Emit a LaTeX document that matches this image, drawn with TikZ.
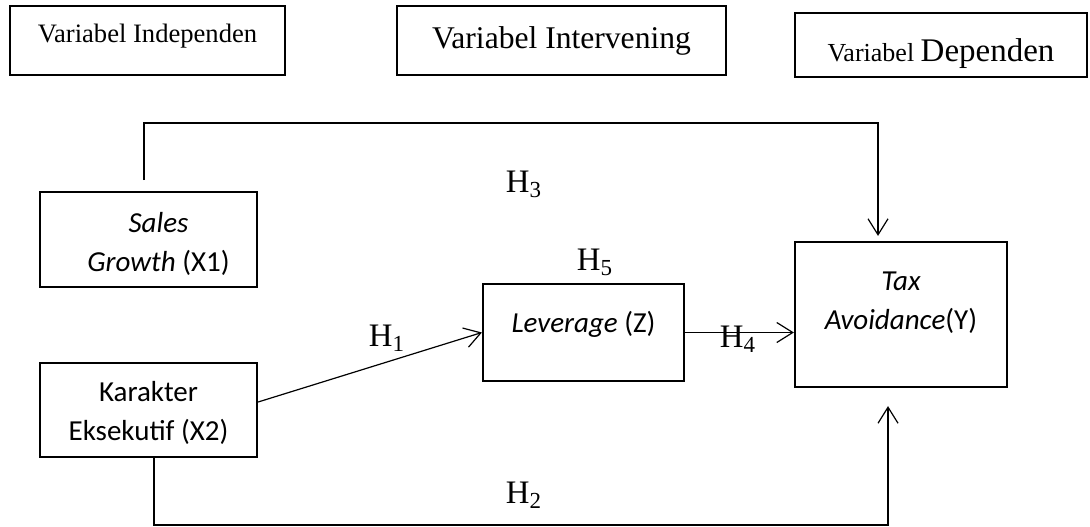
\documentclass[tikz,border=0pt]{standalone}
\usepackage{fontspec}
\setmainfont{Liberation Serif}
\newfontfamily\calibri{Carlito}
\usetikzlibrary{arrows.meta}

\begin{document}
\begin{tikzpicture}[x=0.5pt,y=-0.5pt,
	box/.style={draw=black,line width=1.1pt,inner sep=0pt,align=center},
	varbox/.style={box,font=\calibri\fontsize{14.5}{19.5}\selectfont},
	hyp/.style={inner sep=0pt,font=\fontsize{16.4}{18}\selectfont},
	link/.style={draw=black,line width=0.6pt,-{Straight Barb[length=8pt,width=10pt]}}]
	\useasboundingbox (0,0) rectangle (1090,526);
	\tikzstyle{every node}+=[inner sep=0pt]
	\node [box,minimum width=137.5pt,minimum height=34.5pt,text height=9pt,text depth=7.5pt,font=\fontsize{13.3}{15}\selectfont] (indep) at (147.5,40.5) {Variabel Independen};
	\node [box,minimum width=164.5pt,minimum height=34.5pt,font=\fontsize{15.8}{18}\selectfont] (interv) at (561.5,40.5) {Variabel Intervening};
	\node [box,minimum width=146pt,minimum height=32pt,text height=16pt,text depth=0pt] (dep) at (941,45) {{\fontsize{13}{14}\selectfont Variabel }{\fontsize{16.5}{18}\selectfont Dependen}};
	\node [varbox,minimum width=108.5pt,minimum height=47.5pt] (sales) at (148.5,239.5) {\hspace*{10pt}\rule{0pt}{14.5pt}{\itshape Sales}\\\hspace*{10pt}{\itshape Growth} (X1)};
	\node [varbox,minimum width=108.5pt,minimum height=47pt] (karakter) at (148.5,410) {\rule{0pt}{13pt}Karakter\\Eksekutif (X2)};
	\node [varbox,minimum width=100.5pt,minimum height=48.5pt,text height=10pt,text depth=10pt] (lev) at (583.5,332.5) {{\itshape Leverage} (Z)};
	\node [varbox,minimum width=106pt,minimum height=72.5pt] (tax) at (901,314.5) {{\itshape Tax}\\{\itshape Avoidance}(Y)\rule[-13.6pt]{0pt}{0pt}};
	\coordinate (h3a) at (144,180);
	\coordinate (h3b) at (878,123);
	\coordinate (h2a) at (154,525);
	\coordinate (h2b) at (888,525);
	\draw [link,shorten >=2.5pt] (h3a) |- (h3b) -- (h3b |- tax.north);
	\draw [link] ([yshift=4pt]karakter.east) -- (lev.west);
	\draw [link] (lev.east) -- (lev.east -| tax.west);
	\draw [link,shorten >=9pt] (karakter.south -| h2a) -- (h2a) -- (h2b) -- (h2b |- tax.south);
	\node [hyp] (h1) at (387,338) {H\textsubscript{1}};
	\node [hyp] (h2) at (524,495) {H\textsubscript{2}};
	\node [hyp] (h3) at (524,184) {H\textsubscript{3}};
	\node [hyp] (h4) at (738,339) {H\textsubscript{4}};
	\node [hyp] (h5) at (595,262) {H\textsubscript{5}};
\end{tikzpicture}
\end{document}
